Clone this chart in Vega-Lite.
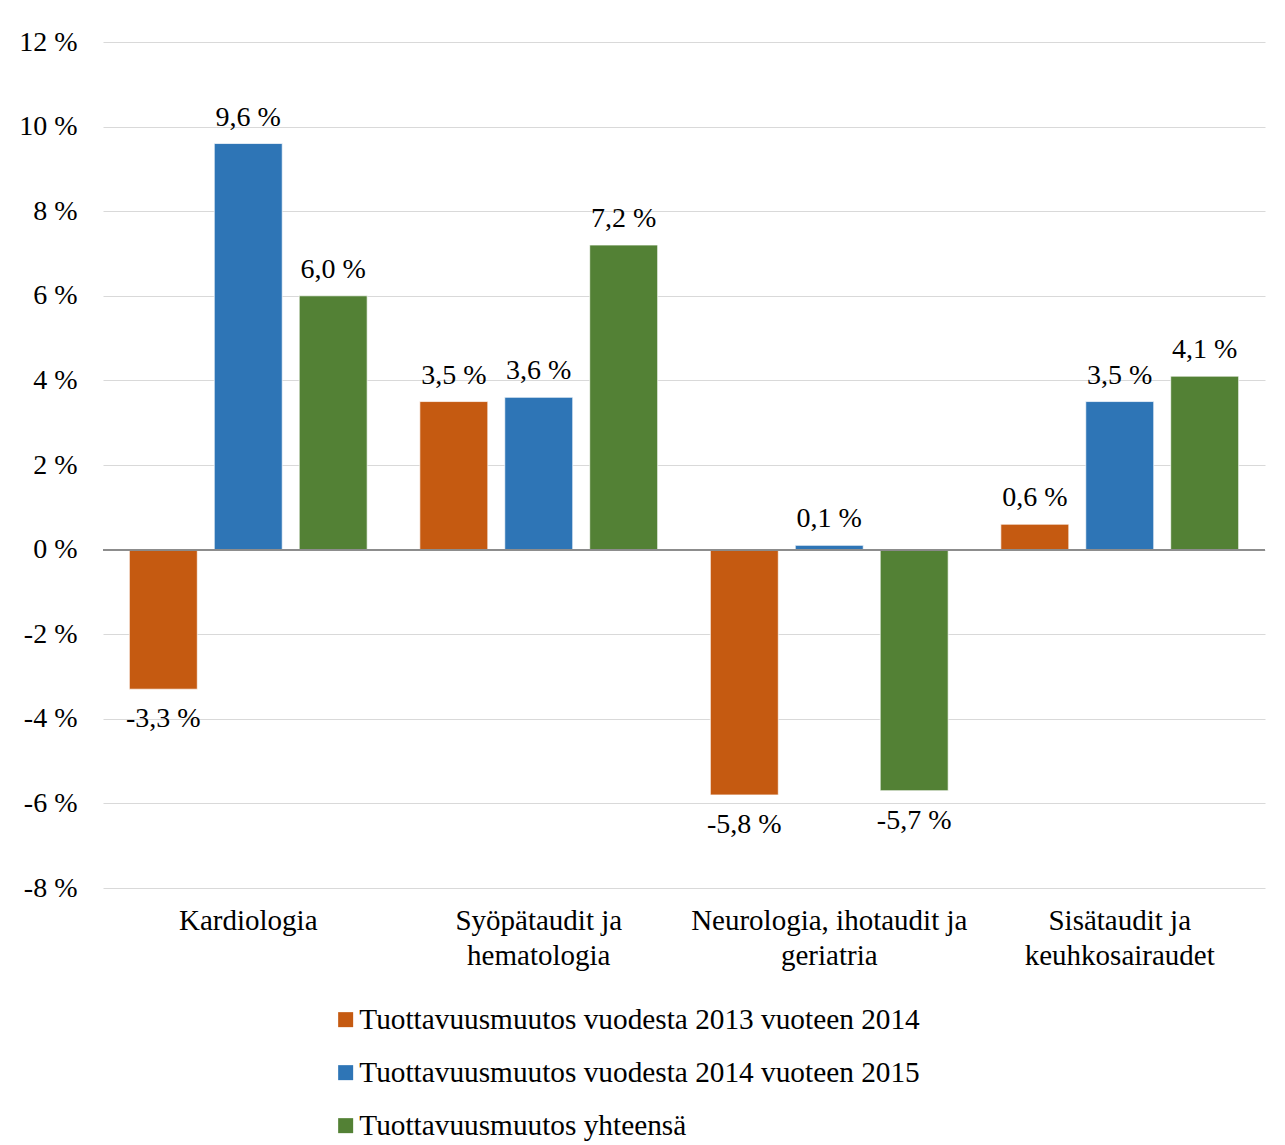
{
  "$schema": "https://vega.github.io/schema/vega-lite/v6.json",
  "autosize": "none",
  "width": 1162,
  "height": 846,
  "padding": {"left": 103, "top": 42, "right": 20, "bottom": 257},
  "background": "white",
  "config": {
    "font": "Liberation Serif",
    "view": {"stroke": null},
    "axis": {"labelFont": "Liberation Serif"},
    "legend": {"labelFont": "Liberation Serif"},
    "text": {"font": "Liberation Serif"},
    "locale": {"number": {"decimal": ",", "thousands": " ", "grouping": [3], "currency": ["", " €"], "minus": "-"}}
  },
  "data": {
    "values": [
      {"category": "Kardiologia", "series": "Tuottavuusmuutos vuodesta 2013 vuoteen 2014", "value": -3.3},
      {"category": "Kardiologia", "series": "Tuottavuusmuutos vuodesta 2014 vuoteen 2015", "value": 9.6},
      {"category": "Kardiologia", "series": "Tuottavuusmuutos yhteensä", "value": 6.0},
      {"category": "Syöpätaudit ja hematologia", "series": "Tuottavuusmuutos vuodesta 2013 vuoteen 2014", "value": 3.5},
      {"category": "Syöpätaudit ja hematologia", "series": "Tuottavuusmuutos vuodesta 2014 vuoteen 2015", "value": 3.6},
      {"category": "Syöpätaudit ja hematologia", "series": "Tuottavuusmuutos yhteensä", "value": 7.2},
      {"category": "Neurologia, ihotaudit ja geriatria", "series": "Tuottavuusmuutos vuodesta 2013 vuoteen 2014", "value": -5.8},
      {"category": "Neurologia, ihotaudit ja geriatria", "series": "Tuottavuusmuutos vuodesta 2014 vuoteen 2015", "value": 0.1},
      {"category": "Neurologia, ihotaudit ja geriatria", "series": "Tuottavuusmuutos yhteensä", "value": -5.7},
      {"category": "Sisätaudit ja keuhkosairaudet", "series": "Tuottavuusmuutos vuodesta 2013 vuoteen 2014", "value": 0.6},
      {"category": "Sisätaudit ja keuhkosairaudet", "series": "Tuottavuusmuutos vuodesta 2014 vuoteen 2015", "value": 3.5},
      {"category": "Sisätaudit ja keuhkosairaudet", "series": "Tuottavuusmuutos yhteensä", "value": 4.1}
    ]
  },
  "encoding": {
    "x": {
      "field": "category", "type": "nominal", "sort": null,
      "scale": {"paddingInner": 0, "paddingOuter": 0},
      "axis": {
        "title": null, "labelAngle": 0, "ticks": false, "domain": false, "grid": false,
        "labelFont": "Liberation Serif", "labelFontSize": 29, "labelColor": "black",
        "labelPadding": 18, "labelLineHeight": 35, "labelBaseline": "top", "labelLimit": 1000,
        "labelExpr": "datum.value == 'Syöpätaudit ja hematologia' ? ['Syöpätaudit ja', 'hematologia'] : datum.value == 'Neurologia, ihotaudit ja geriatria' ? ['Neurologia, ihotaudit ja', 'geriatria'] : datum.value == 'Sisätaudit ja keuhkosairaudet' ? ['Sisätaudit ja', 'keuhkosairaudet'] : datum.value"
      }
    },
    "xOffset": {"field": "series", "type": "nominal", "sort": null, "scale": {"paddingInner": 0.2, "paddingOuter": 0.31}},
    "y": {
      "field": "value", "type": "quantitative",
      "scale": {"domain": [-8, 12], "nice": false, "zero": false},
      "axis": {
        "title": null, "values": [-8, -6, -4, -2, 0, 2, 4, 6, 8, 10, 12], "format": "d",
        "labelExpr": "datum.label + ' %'", "ticks": false, "domain": false,
        "grid": true, "gridColor": "#d9d9d9", "gridWidth": 1,
        "labelFont": "Liberation Serif", "labelFontSize": 28, "labelColor": "black", "labelPadding": 26
      }
    }
  },
  "layer": [
    {
      "mark": {"type": "bar", "stroke": "white", "strokeWidth": 0.7},
      "encoding": {
        "color": {
          "field": "series", "type": "nominal", "sort": null,
          "scale": {"range": ["#C55A11", "#2E75B6", "#538135"]},
          "legend": {
            "title": null, "orient": "none", "legendX": 228, "legendY": 963, "direction": "vertical",
            "symbolType": "square", "symbolSize": 225, "symbolStrokeWidth": 0,
            "labelFont": "Liberation Serif", "labelFontSize": 29.3, "labelColor": "black",
            "labelOffset": -1, "rowPadding": 23, "labelLimit": 1000
          }
        }
      }
    },
    {
      "mark": {"type": "rule", "color": "#8c8c8c", "strokeWidth": 1.3},
      "encoding": {"x": null, "xOffset": null, "y": {"datum": 0}}
    },
    {
      "transform": [
        {"filter": "datum.value >= 0"},
        {"calculate": "format(datum.value, '.1f') + ' %'", "as": "label"}
      ],
      "mark": {"type": "text", "baseline": "alphabetic", "dy": -18, "fontSize": 28, "font": "Liberation Serif", "color": "black"},
      "encoding": {"text": {"field": "label"}}
    },
    {
      "transform": [
        {"filter": "datum.value < 0"},
        {"calculate": "format(datum.value, '.1f') + ' %'", "as": "label"}
      ],
      "mark": {"type": "text", "baseline": "top", "dy": 16, "fontSize": 28, "font": "Liberation Serif", "color": "black"},
      "encoding": {"text": {"field": "label"}}
    }
  ]
}
